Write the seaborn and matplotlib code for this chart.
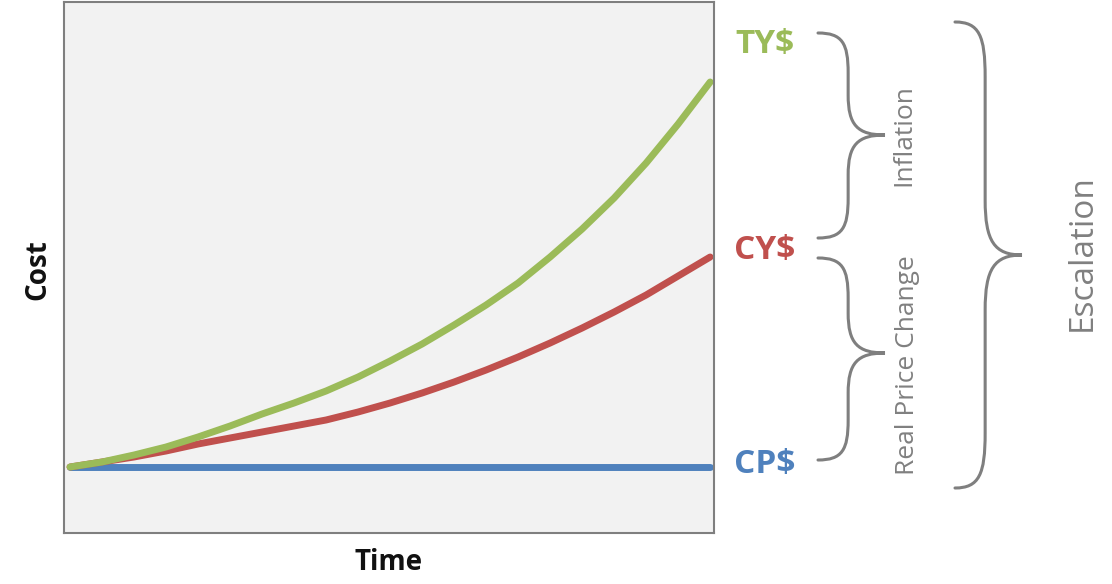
import seaborn as sns
import pandas as pd
import numpy as np
import matplotlib.pyplot as plt
from matplotlib.path import Path
from matplotlib.patches import PathPatch

# data (cost above constant-price baseline)
time = [0, 0.5, 1, 1.5, 2, 2.5, 3, 3.5, 4, 4.5, 5, 5.5, 6, 6.5, 7, 7.5, 8, 8.5, 9, 9.5, 10]
cp = [0] * len(time)
cy = [0, 0.05, 0.10, 0.16, 0.23, 0.29, 0.35, 0.41, 0.47, 0.55, 0.64,
      0.74, 0.85, 0.97, 1.10, 1.24, 1.39, 1.55, 1.72, 1.91, 2.10]
ty = [0, 0.05, 0.12, 0.20, 0.30, 0.41, 0.53, 0.64, 0.76, 0.90, 1.06,
      1.23, 1.42, 1.62, 1.84, 2.10, 2.38, 2.69, 3.04, 3.43, 3.85]
series = ["CP$", "CY$", "TY$"]
colors = ["#4F81BD", "#C0504D", "#9BBB59"]

df = pd.DataFrame({
    "Time": time * 3,
    "Cost": cp + cy + ty,
    "series": np.repeat(series, len(time)),
})

sns.set_style("white")
plt.rcParams['font.family'] = ['Open Sans', 'DejaVu Sans']

fig = plt.figure(figsize=(11.12, 5.84), dpi=100)
ax = fig.add_axes([64 / 1112, 1 - 533 / 584, 650 / 1112, 531 / 584])
ax.set_facecolor("#f2f2f2")

sns.lineplot(data=df, x="Time", y="Cost", hue="series", hue_order=series,
             palette=colors, linewidth=5, legend=False, ax=ax,
             solid_capstyle="round")
ax.set_xlim(-0.094, 10.06)
ax.set_ylim(-0.66, 4.65)
ax.set_xticks([])
ax.set_yticks([])
for s in ax.spines.values():
    s.set_color("#7f7f7f")
    s.set_linewidth(1.5)
ax.set_xlabel("")
ax.set_ylabel("")
fig.text(389 / 1112, 1 - 563 / 584, "Time", fontsize=20, fontweight="bold",
         ha="center", va="center", color="#111111")
fig.text(38 / 1112, 1 - 270 / 584, "Cost", fontsize=20, fontweight="bold",
         ha="center", va="center", rotation=90, color="#111111")

# line end labels
label_y = {"CP$": 464, "CY$": 250, "TY$": 44}
for name, col in zip(series, colors):
    fig.text(765 / 1112, 1 - label_y[name] / 584, name, color=col, fontsize=24,
             fontweight="bold", ha="center", va="center")


def brace(x0, x1, y0, y1, ym, r):
    xm = x0 + 0.45 * (x1 - x0)
    pts = [(x0, y0), (x0 + 0.8 * (xm - x0), y0), (xm, y0 + 0.25 * r), (xm, y0 + r),
           (xm, ym - r),
           (xm, ym - 0.25 * r), (xm + 0.25 * (x1 - xm), ym), (x1, ym),
           (xm + 0.25 * (x1 - xm), ym), (xm, ym + 0.25 * r), (xm, ym + r),
           (xm, y1 - r),
           (xm, y1 - 0.25 * r), (x0 + 0.8 * (xm - x0), y1), (x0, y1)]
    codes = [Path.MOVETO, Path.CURVE4, Path.CURVE4, Path.CURVE4,
             Path.LINETO,
             Path.CURVE4, Path.CURVE4, Path.CURVE4,
             Path.CURVE4, Path.CURVE4, Path.CURVE4,
             Path.LINETO,
             Path.CURVE4, Path.CURVE4, Path.CURVE4]
    pts = [(x / 1112, 1 - y / 584) for x, y in pts]
    fig.patches.append(PathPatch(Path(pts, codes), transform=fig.transFigure,
                                 fill=False, edgecolor="#7f7f7f", linewidth=2.2,
                                 capstyle="round"))


brace(818, 885, 33, 238, 135, 40)
brace(818, 885, 258, 460, 353, 40)
brace(955, 1022, 22, 488, 255, 55)

gray = "#808080"
fig.text(904 / 1112, 1 - 135 / 584, "Inflation", color=gray, fontsize=19,
         rotation=90, ha="center", va="center")
fig.text(907 / 1112, 1 - 365 / 584, "Real Price Change", color=gray, fontsize=19,
         rotation=90, ha="center", va="center")
fig.text(1082 / 1112, 1 - 253 / 584, "Escalation", color=gray, fontsize=24,
         rotation=90, ha="center", va="center")

plt.savefig("out.png", dpi=100)
